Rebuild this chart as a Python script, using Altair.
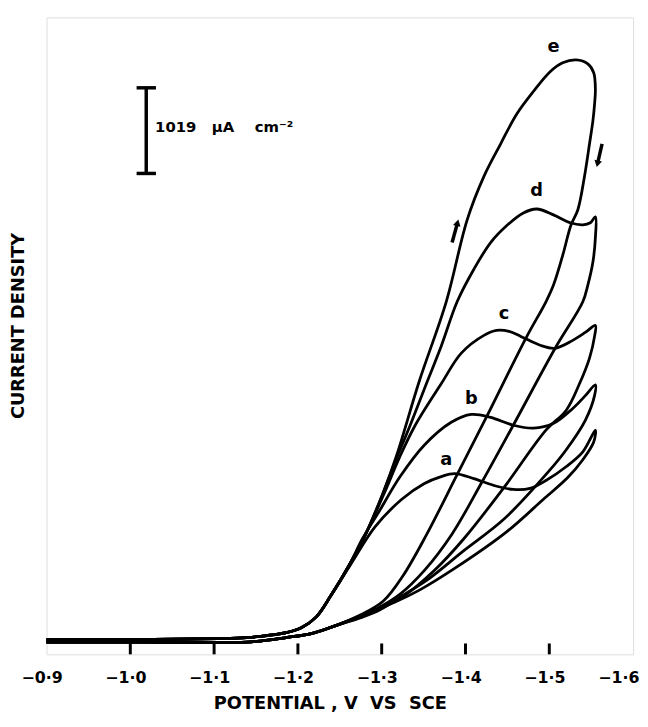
import altair as alt
import pandas as pd

# ---- values: potential (V vs SCE), current density (uA cm^-2)
shared_fwd_v = [-0.900, -1.021, -1.104, -1.139, -1.163, -1.186, -1.204, -1.222, -1.239, -1.261, -1.281, -1.301]
shared_fwd_i = [0, 0, 12, 24, 47, 82, 141, 270, 517, 881, 1257, 1727]
shared_rev_v = [-1.245, -1.216, -1.186, -1.139, -1.021, -0.900]
shared_rev_i = [165, 71, 24, -30, -30, -30]

a_fwd_v = [-1.263, -1.292, -1.324, -1.351, -1.371, -1.387, -1.410, -1.434, -1.457, -1.477, -1.496, -1.520, -1.540, -1.555]
a_fwd_i = [893, 1340, 1669, 1857, 1939, 1974, 1915, 1833, 1786, 1798, 1892, 2056, 2233, 2491]
a_rev_v = [-1.553, -1.540, -1.522, -1.493, -1.449, -1.387, -1.345, -1.316, -1.292, -1.269]
a_rev_i = [2350, 2139, 1927, 1669, 1281, 846, 588, 447, 353, 259]

b_fwd_v = [-1.277, -1.295, -1.322, -1.351, -1.383, -1.407, -1.430, -1.457, -1.481, -1.505, -1.528, -1.543, -1.555]
b_fwd_i = [1199, 1492, 1939, 2315, 2585, 2679, 2644, 2550, 2515, 2573, 2750, 2902, 3032]
b_rev_v = [-1.554, -1.543, -1.520, -1.499, -1.446, -1.398, -1.357, -1.322, -1.298, -1.275]
b_rev_i = [2902, 2609, 2256, 1998, 1434, 1058, 729, 505, 353, 259]

c_fwd_v = [-1.304, -1.321, -1.340, -1.371, -1.395, -1.422, -1.437, -1.452, -1.466, -1.489, -1.507, -1.528, -1.543, -1.555]
c_fwd_i = [1763, 2162, 2550, 3043, 3408, 3619, 3678, 3666, 3607, 3502, 3466, 3560, 3654, 3737]
c_rev_v = [-1.554, -1.548, -1.536, -1.520, -1.496, -1.446, -1.398, -1.363, -1.328, -1.298, -1.275]
c_rev_i = [3607, 3349, 3043, 2726, 2491, 1810, 1199, 823, 529, 364, 270]

d_fwd_v = [-1.316, -1.334, -1.351, -1.371, -1.390, -1.410, -1.430, -1.449, -1.469, -1.485, -1.505, -1.525, -1.540, -1.549, -1.555]
d_fwd_i = [2115, 2550, 2985, 3490, 4019, 4406, 4724, 4923, 5076, 5123, 5053, 4959, 4935, 4959, 5029]
d_rev_v = [-1.555, -1.552, -1.546, -1.540, -1.507, -1.457, -1.420, -1.384, -1.351, -1.322, -1.298, -1.275]
d_rev_i = [4782, 4489, 4218, 4019, 3466, 2550, 1880, 1257, 823, 541, 388, 282]

e_fwd_v = [-1.318, -1.345, -1.377, -1.402, -1.422, -1.442, -1.461, -1.481, -1.501, -1.516, -1.532, -1.546, -1.553, -1.555]
e_fwd_i = [2197, 3079, 4019, 4994, 5511, 5899, 6251, 6521, 6756, 6862, 6897, 6850, 6745, 6545]
e_rev_v = [-1.554, -1.552, -1.548, -1.542, -1.534, -1.526, -1.516, -1.505, -1.496, -1.472, -1.426, -1.390, -1.354, -1.325, -1.302, -1.275]
e_rev_i = [6369, 6169, 5899, 5511, 5111, 4935, 4571, 4218, 4019, 3584, 2667, 1962, 1257, 752, 458, 294]

# how many shared forward points each curve uses before it separates
shared_count = {"a": 9, "b": 10, "c": 11, "d": 12, "e": 12}

curve_labels = ["a", "b", "c", "d", "e"]
label_v = [-1.377, -1.407, -1.446, -1.485, -1.505]
label_i = [2139, 2867, 3878, 5335, 7050]

x_ticks = [-0.9, -1.0, -1.1, -1.2, -1.3, -1.4, -1.5, -1.6]
inner_ticks = [-1.0, -1.1, -1.2, -1.3, -1.4, -1.5]

# scale bar: 1019 uA cm^-2
bar_v = -1.019
bar_i0 = 5546
bar_len = 1019
bar_cap_v = [-1.0075, -1.0306]
bar_text = "1019\u00a0\u00a0\u00a0μA\u00a0\u00a0\u00a0\u00a0cm⁻²"
bar_text_v = -1.0296
bar_text_i = 6098

# scan-direction arrows on curve e (tail v, tail i, head v, head i)
arrow_tail_v = [-1.384, -1.563]
arrow_tail_i = [4724, 5899]
arrow_head_v = [-1.3905, -1.5575]
arrow_head_i = [4960, 5660]

# ---- build tables
fwd = {"a": (a_fwd_v, a_fwd_i), "b": (b_fwd_v, b_fwd_i), "c": (c_fwd_v, c_fwd_i),
       "d": (d_fwd_v, d_fwd_i), "e": (e_fwd_v, e_fwd_i)}
rev = {"a": (a_rev_v, a_rev_i), "b": (b_rev_v, b_rev_i), "c": (c_rev_v, c_rev_i),
       "d": (d_rev_v, d_rev_i), "e": (e_rev_v, e_rev_i)}
rows = []
for name in curve_labels:
    n = shared_count[name]
    vs = shared_fwd_v[:n] + fwd[name][0] + rev[name][0] + shared_rev_v
    is_ = shared_fwd_i[:n] + fwd[name][1] + rev[name][1] + shared_rev_i
    for k, (v, i) in enumerate(zip(vs, is_)):
        rows.append({"curve": name, "k": k, "v": v, "i": i})
df = pd.DataFrame(rows)

FONT = "DejaVu Sans"
xscale = alt.Scale(domain=[-1.6, -0.9], reverse=True, nice=False, zero=False)
yscale = alt.Scale(domain=[-176, 7403], nice=False, zero=False)

last_label = "datum.value <= -1.59"
xaxis = alt.Axis(
    values=x_ticks,
    labelExpr="'\u2212' + replace(format(abs(datum.value), '.1f'), '.', '\u00b7')",
    domain=False, ticks=False, grid=False,
    labelPadding=24, labelBaseline="middle", labelFlush=False,
    labelAlign={"condition": {"test": last_label, "value": "right"}, "value": "center"},
    labelOffset={"condition": {"test": last_label, "value": 6}, "value": -5},
    labelFont=FONT, labelFontWeight="bold", labelFontSize=16, labelColor="black",
    title="POTENTIAL , V\u00a0\u00a0VS\u00a0\u00a0SCE",
    titleX=287, titleY=50, titleBaseline="middle", titleAlign="center",
    titleFont=FONT, titleFontWeight="bold", titleFontSize=18, titleColor="black",
)
yaxis = alt.Axis(
    labels=False, ticks=False, domain=False, grid=False,
    title="CURRENT DENSITY",
    titleX=-28, titleY=312, titleAngle=270, titleBaseline="middle", titleAlign="center",
    titleFont=FONT, titleFontWeight="bold", titleFontSize=18, titleColor="black",
)

curves = alt.Chart(df).mark_line(color="black", strokeWidth=2.8, interpolate="catmull-rom").encode(
    x=alt.X("v:Q", scale=xscale, axis=xaxis),
    y=alt.Y("i:Q", scale=yscale, axis=yaxis),
    detail="curve:N",
    order="k:Q",
)

ticks_df = pd.DataFrame({"v": inner_ticks})
tick_marks = alt.Chart(ticks_df).mark_rule(color="black", strokeWidth=3).encode(
    x="v:Q", y=alt.value(634), y2=alt.value(645)
)

labels_df = pd.DataFrame({"t": curve_labels, "v": label_v, "i": label_i})
label_marks = alt.Chart(labels_df).mark_text(
    font=FONT, fontWeight="bold", fontSize=18, color="black", baseline="middle", align="center"
).encode(x="v:Q", y="i:Q", text="t:N")

bar_df = pd.DataFrame({"v": [bar_v], "i0": [bar_i0], "i1": [bar_i0 + bar_len]})
bar_line = alt.Chart(bar_df).mark_rule(color="black", strokeWidth=3.5).encode(
    x="v:Q", y="i0:Q", y2="i1:Q"
)
caps_df = pd.DataFrame({"v0": [bar_cap_v[0]] * 2, "v1": [bar_cap_v[1]] * 2,
                        "i": [bar_i0, bar_i0 + bar_len]})
bar_caps = alt.Chart(caps_df).mark_rule(color="black", strokeWidth=3.5).encode(
    x="v0:Q", x2="v1:Q", y="i:Q"
)
bar_txt_df = pd.DataFrame({"t": [bar_text], "v": [bar_text_v], "i": [bar_text_i]})
bar_label = alt.Chart(bar_txt_df).mark_text(
    font=FONT, fontWeight="bold", fontSize=15, color="black", align="left", baseline="middle"
).encode(x="v:Q", y="i:Q", text="t:N")

arr_df = pd.DataFrame({"tv": arrow_tail_v, "ti": arrow_tail_i,
                       "hv": arrow_head_v, "hi": arrow_head_i})
arrow_shaft = alt.Chart(arr_df).mark_rule(color="black", strokeWidth=3.5).encode(
    x="tv:Q", y="ti:Q", x2="hv:Q", y2="hi:Q"
)
arrow_head_up = alt.Chart(arr_df.iloc[[0]]).mark_point(
    shape="triangle-up", filled=True, color="black", size=60, angle=14, opacity=1
).encode(x="hv:Q", y="hi:Q")
arrow_head_dn = alt.Chart(arr_df.iloc[[1]]).mark_point(
    shape="triangle-down", filled=True, color="black", size=60, angle=13, opacity=1
).encode(x="hv:Q", y="hi:Q")

chart = alt.layer(
    curves, tick_marks, label_marks, bar_line, bar_caps, bar_label,
    arrow_shaft, arrow_head_up, arrow_head_dn
).properties(
    width=594, height=645, autosize="none",
    padding={"left": 39, "top": 5, "right": 7, "bottom": 62},
).configure_view(stroke="black", strokeWidth=4).configure(background="white")

chart.save("out.html", embed_options={"renderer": "svg", "actions": False})
